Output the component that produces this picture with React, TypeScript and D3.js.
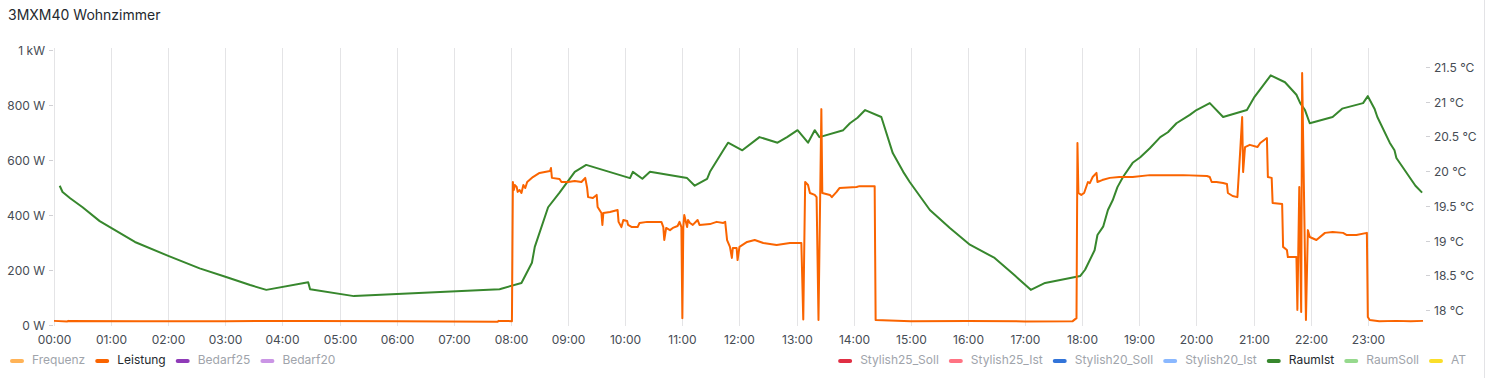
import React, { useEffect, useRef } from "react";
import * as d3 from "d3";

const WIDTH = 1488;
const HEIGHT = 378;
const title = "3MXM40 Wohnzimmer";

const leftTicks = [0, 200, 400, 600, 800, 1000];
const leftTickLabels = ["0 W", "200 W", "400 W", "600 W", "800 W", "1 kW"];
const rightTicks = [18, 18.5, 19, 19.5, 20, 20.5, 21, 21.5];
const rightTickLabels = ["18 °C", "18.5 °C", "19 °C", "19.5 °C", "20 °C", "20.5 °C", "21 °C", "21.5 °C"];
const hourLabels = [
  "00:00", "01:00", "02:00", "03:00", "04:00", "05:00", "06:00", "07:00", "08:00", "09:00", "10:00", "11:00",
  "12:00", "13:00", "14:00", "15:00", "16:00", "17:00", "18:00", "19:00", "20:00", "21:00", "22:00", "23:00",
];

// Leistung (W)
const leistungTimes = [
  "00:00", "00:14", "00:15", "01:30", "03:00", "04:30", "06:00", "07:46", "07:47", "08:01",
  "08:02", "08:03", "08:04", "08:06", "08:07", "08:09", "08:11", "08:13", "08:15", "08:17",
  "08:23", "08:30", "08:41", "08:42", "08:43", "08:51", "08:53", "09:00", "09:07", "09:14",
  "09:18", "09:20", "09:21", "09:26", "09:30", "09:31", "09:35", "09:36", "09:37", "09:44",
  "09:52", "09:53", "09:56", "09:58", "10:02", "10:03", "10:07", "10:13", "10:15", "10:23",
  "10:38", "10:40", "10:41", "10:43", "10:47", "10:50", "10:55", "10:57", "10:59", "11:00",
  "11:01", "11:02", "11:05", "11:06", "11:08", "11:11", "11:16", "11:18", "11:29", "11:36",
  "11:43", "11:45", "11:47", "11:50", "11:52", "11:53", "11:57", "11:58", "12:00", "12:08",
  "12:16", "12:25", "12:39", "12:53", "13:05", "13:07", "13:09", "13:12", "13:14", "13:19",
  "13:21", "13:23", "13:26", "13:27", "13:35", "13:37", "13:42", "13:45", "14:03", "14:06",
  "14:22", "14:23", "15:00", "16:00", "17:00", "17:50", "17:54", "17:55", "17:56", "17:59",
  "18:02", "18:06", "18:08", "18:11", "18:15", "18:16", "18:21", "18:29", "18:39", "18:53",
  "19:11", "19:29", "19:46", "20:11", "20:14", "20:16", "20:21", "20:28", "20:32", "20:33",
  "20:38", "20:43", "20:46", "20:48", "20:49", "20:51", "20:56", "21:04", "21:07", "21:14",
  "21:15", "21:19", "21:20", "21:30", "21:31", "21:35", "21:36", "21:45", "21:46", "21:48",
  "21:50", "21:51", "21:55", "21:57", "21:59", "22:06", "22:15", "22:23", "22:34", "22:38",
  "22:48", "22:59", "23:00", "23:02", "23:12", "23:30", "23:45", "23:58",
];
const leistungValues = [
  15, 13, 15, 14, 14, 15, 14, 12, 15, 14,
  520, 491, 509, 502, 484, 491, 480, 509, 498, 520,
  538, 553, 560, 571, 535, 531, 520, 520, 524, 520,
  535, 498, 465, 462, 473, 429, 407, 364, 407, 411,
  418, 375, 356, 382, 378, 364, 356, 356, 371, 375,
  375, 356, 309, 353, 345, 353, 360, 375, 356, 25,
  356, 400, 356, 382, 371, 364, 382, 364, 367, 375,
  371, 375, 309, 284, 244, 280, 280, 236, 284, 302,
  309, 298, 291, 298, 298, 20, 520, 509, 480, 473,
  465, 18, 785, 480, 473, 465, 484, 498, 502, 505,
  505, 18, 14, 15, 13, 14, 25, 662, 480, 473,
  480, 520, 516, 538, 553, 520, 527, 535, 538, 538,
  545, 545, 545, 542, 538, 520, 520, 516, 513, 480,
  469, 465, 636, 756, 556, 647, 655, 647, 662, 680,
  538, 535, 444, 440, 284, 273, 247, 247, 55, 502,
  47, 916, 18, 345, 320, 309, 335, 338, 335, 327,
  327, 335, 29, 18, 14, 15, 14, 15,
];

// RaumIst (°C)
const raumIstTimes = [
  "00:06", "00:09", "00:17", "00:30", "00:48", "01:25", "02:00", "02:33", "03:00", "03:26",
  "03:43", "04:27", "04:29", "05:15", "07:48", "08:11", "08:22", "08:25", "08:39", "08:51",
  "09:07", "09:19", "10:05", "10:08", "10:18", "10:26", "11:05", "11:13", "11:26", "11:29",
  "11:43", "11:48", "12:03", "12:21", "12:40", "12:50", "13:01", "13:12", "13:19", "13:24",
  "13:49", "13:56", "14:04", "14:12", "14:29", "14:41", "14:52", "14:59", "15:20", "15:41",
  "16:02", "16:28", "16:49", "17:06", "17:21", "17:58", "18:03", "18:13", "18:16", "18:22",
  "18:27", "18:32", "18:37", "18:43", "18:53", "19:01", "19:11", "19:22", "19:30", "19:39",
  "19:53", "20:00", "20:14", "20:28", "20:53", "21:01", "21:18", "21:33", "21:45", "21:49",
  "21:54", "21:59", "22:23", "22:33", "22:55", "23:00", "23:07", "23:10", "23:23", "23:28",
  "23:30", "23:50", "23:57",
];
const raumIstValues = [
  19.79, 19.70, 19.61, 19.48, 19.28, 18.98, 18.78, 18.60, 18.48, 18.36,
  18.29, 18.40, 18.30, 18.20, 18.30, 18.39, 18.68, 18.91, 19.48, 19.69,
  19.99, 20.09, 19.90, 19.99, 19.89, 19.99, 19.90, 19.79, 19.89, 19.99,
  20.30, 20.41, 20.30, 20.49, 20.41, 20.49, 20.59, 20.41, 20.59, 20.49,
  20.59, 20.69, 20.77, 20.88, 20.78, 20.26, 19.99, 19.84, 19.44, 19.18,
  18.94, 18.75, 18.50, 18.29, 18.39, 18.49, 18.58, 18.86, 19.08, 19.20,
  19.44, 19.58, 19.77, 19.92, 20.12, 20.20, 20.33, 20.49, 20.56, 20.69,
  20.81, 20.88, 20.98, 20.78, 20.88, 21.07, 21.38, 21.28, 21.10, 20.98,
  20.88, 20.69, 20.78, 20.90, 20.98, 21.08, 20.90, 20.78, 20.41, 20.30,
  20.19, 19.79, 19.69,
];

const legendLeftNames = ["Frequenz", "Leistung", "Bedarf25", "Bedarf20"];
const legendLeftColors = ["#FFB357", "#FA6400", "#8F3BB8", "#CA95E5"];
const legendLeftActive = [false, true, false, false];
const legendRightNames = ["Stylish25_Soll", "Stylish25_Ist", "Stylish20_Soll", "Stylish20_Ist", "RaumIst", "RaumSoll", "AT"];
const legendRightColors = ["#E02F44", "#FF7383", "#3274D9", "#8AB8FF", "#37872D", "#96D98D", "#FADE2A"];
const legendRightActive = [false, false, false, false, true, false, false];

const FONT = "Inter, 'Noto Sans', sans-serif";

function parseT(s: string): Date {
  const [h, m] = s.split(":").map(Number);
  return new Date(2024, 0, 1, h, m);
}

export default function App() {
  const ref = useRef<SVGSVGElement | null>(null);

  useEffect(() => {
    const svg = d3.select(ref.current);
    svg.selectAll("*").remove();

    const x0 = 54, x1 = 1424;
    const x = d3.scaleTime().domain([parseT("00:00"), parseT("23:59")]).range([x0, x1]);
    const yL = d3.scaleLinear().domain([0, 1000]).range([325, 50]);
    const yR = d3.scaleLinear().domain([18, 21.5]).range([310, 67]);

    // panel right border
    svg.append("line").attr("x1", 1484.5).attr("x2", 1484.5).attr("y1", 0).attr("y2", HEIGHT)
      .attr("stroke", "#e3e3e6");

    svg.append("text").attr("x", 8).attr("y", 20).attr("font-family", FONT).attr("font-size", 14)
      .attr("font-weight", 400).attr("fill", "#24292e").text(title);

    // vertical grid
    const g = svg.append("g");
    hourLabels.forEach((lab) => {
      const xx = Math.round(x(parseT(lab))) + 0.5;
      g.append("line").attr("x1", xx).attr("x2", xx).attr("y1", 48).attr("y2", 326)
        .attr("stroke", "#e4e4e6").attr("stroke-width", 1);
      g.append("text").attr("x", xx).attr("y", 344).attr("text-anchor", "middle")
        .attr("font-family", FONT).attr("font-size", 12).attr("fill", "#464c54").text(lab);
    });

    // left axis
    leftTicks.forEach((v, i) => {
      const yy = Math.round(yL(v)) + 0.5;
      g.append("line").attr("x1", 49).attr("x2", 53).attr("y1", yy).attr("y2", yy).attr("stroke", "#d0d0d4");
      g.append("text").attr("x", 45).attr("y", yy + 4).attr("text-anchor", "end")
        .attr("font-family", FONT).attr("font-size", 12).attr("fill", "#464c54").text(leftTickLabels[i]);
    });
    // right axis
    rightTicks.forEach((v, i) => {
      const yy = Math.round(yR(v)) + 0.5;
      g.append("line").attr("x1", 1426).attr("x2", 1430).attr("y1", yy).attr("y2", yy).attr("stroke", "#d0d0d4");
      g.append("text").attr("x", 1434).attr("y", yy + 4).attr("text-anchor", "start")
        .attr("font-family", FONT).attr("font-size", 12).attr("fill", "#464c54").text(rightTickLabels[i]);
    });

    // lines
    const raum = raumIstTimes.map((t, i) => [parseT(t), raumIstValues[i]] as [Date, number]);
    const leist = leistungTimes.map((t, i) => [parseT(t), leistungValues[i]] as [Date, number]);
    const lineR = d3.line<[Date, number]>().x((d) => x(d[0])).y((d) => yR(d[1]));
    const lineL = d3.line<[Date, number]>().x((d) => x(d[0])).y((d) => yL(d[1]));

    svg.append("path").attr("d", lineR(raum) as string).attr("fill", "none")
      .attr("stroke", "#37872D").attr("stroke-width", 2).attr("stroke-linejoin", "round");
    svg.append("path").attr("d", lineL(leist) as string).attr("fill", "none")
      .attr("stroke", "#FA6400").attr("stroke-width", 2).attr("stroke-linejoin", "round");

    // legends
    const legY = 364;
    const drawItem = (gg: any, name: string, color: string, active: boolean, xs: number) => {
      gg.append("rect").attr("x", xs).attr("y", legY - 5).attr("width", 14).attr("height", 4)
        .attr("rx", 2).attr("fill", color);
      const t = gg.append("text").attr("x", xs + 22).attr("y", legY).attr("font-family", FONT)
        .attr("font-size", 12).attr("fill", active ? "#24292e" : "#a0a4ab").text(name);
      return (t.node() as SVGTextElement).getComputedTextLength();
    };
    const lg = svg.append("g");
    let cx = 10;
    legendLeftNames.forEach((n, i) => {
      const w = drawItem(lg, n, legendLeftColors[i], legendLeftActive[i], cx);
      cx += 22 + w + 10;
    });
    // right legend: measure then right-align to 1466
    const rg = svg.append("g");
    let rx = 0;
    legendRightNames.forEach((n, i) => {
      const w = drawItem(rg, n, legendRightColors[i], legendRightActive[i], rx);
      rx += 22 + w + 10;
    });
    const total = rx - 10;
    rg.attr("transform", `translate(${1466 - total},0)`);
  }, []);

  return (
    <svg ref={ref} width={WIDTH} height={HEIGHT}
      style={{ position: "absolute", left: 0, top: 0, background: "#fff" }} />
  );
}
